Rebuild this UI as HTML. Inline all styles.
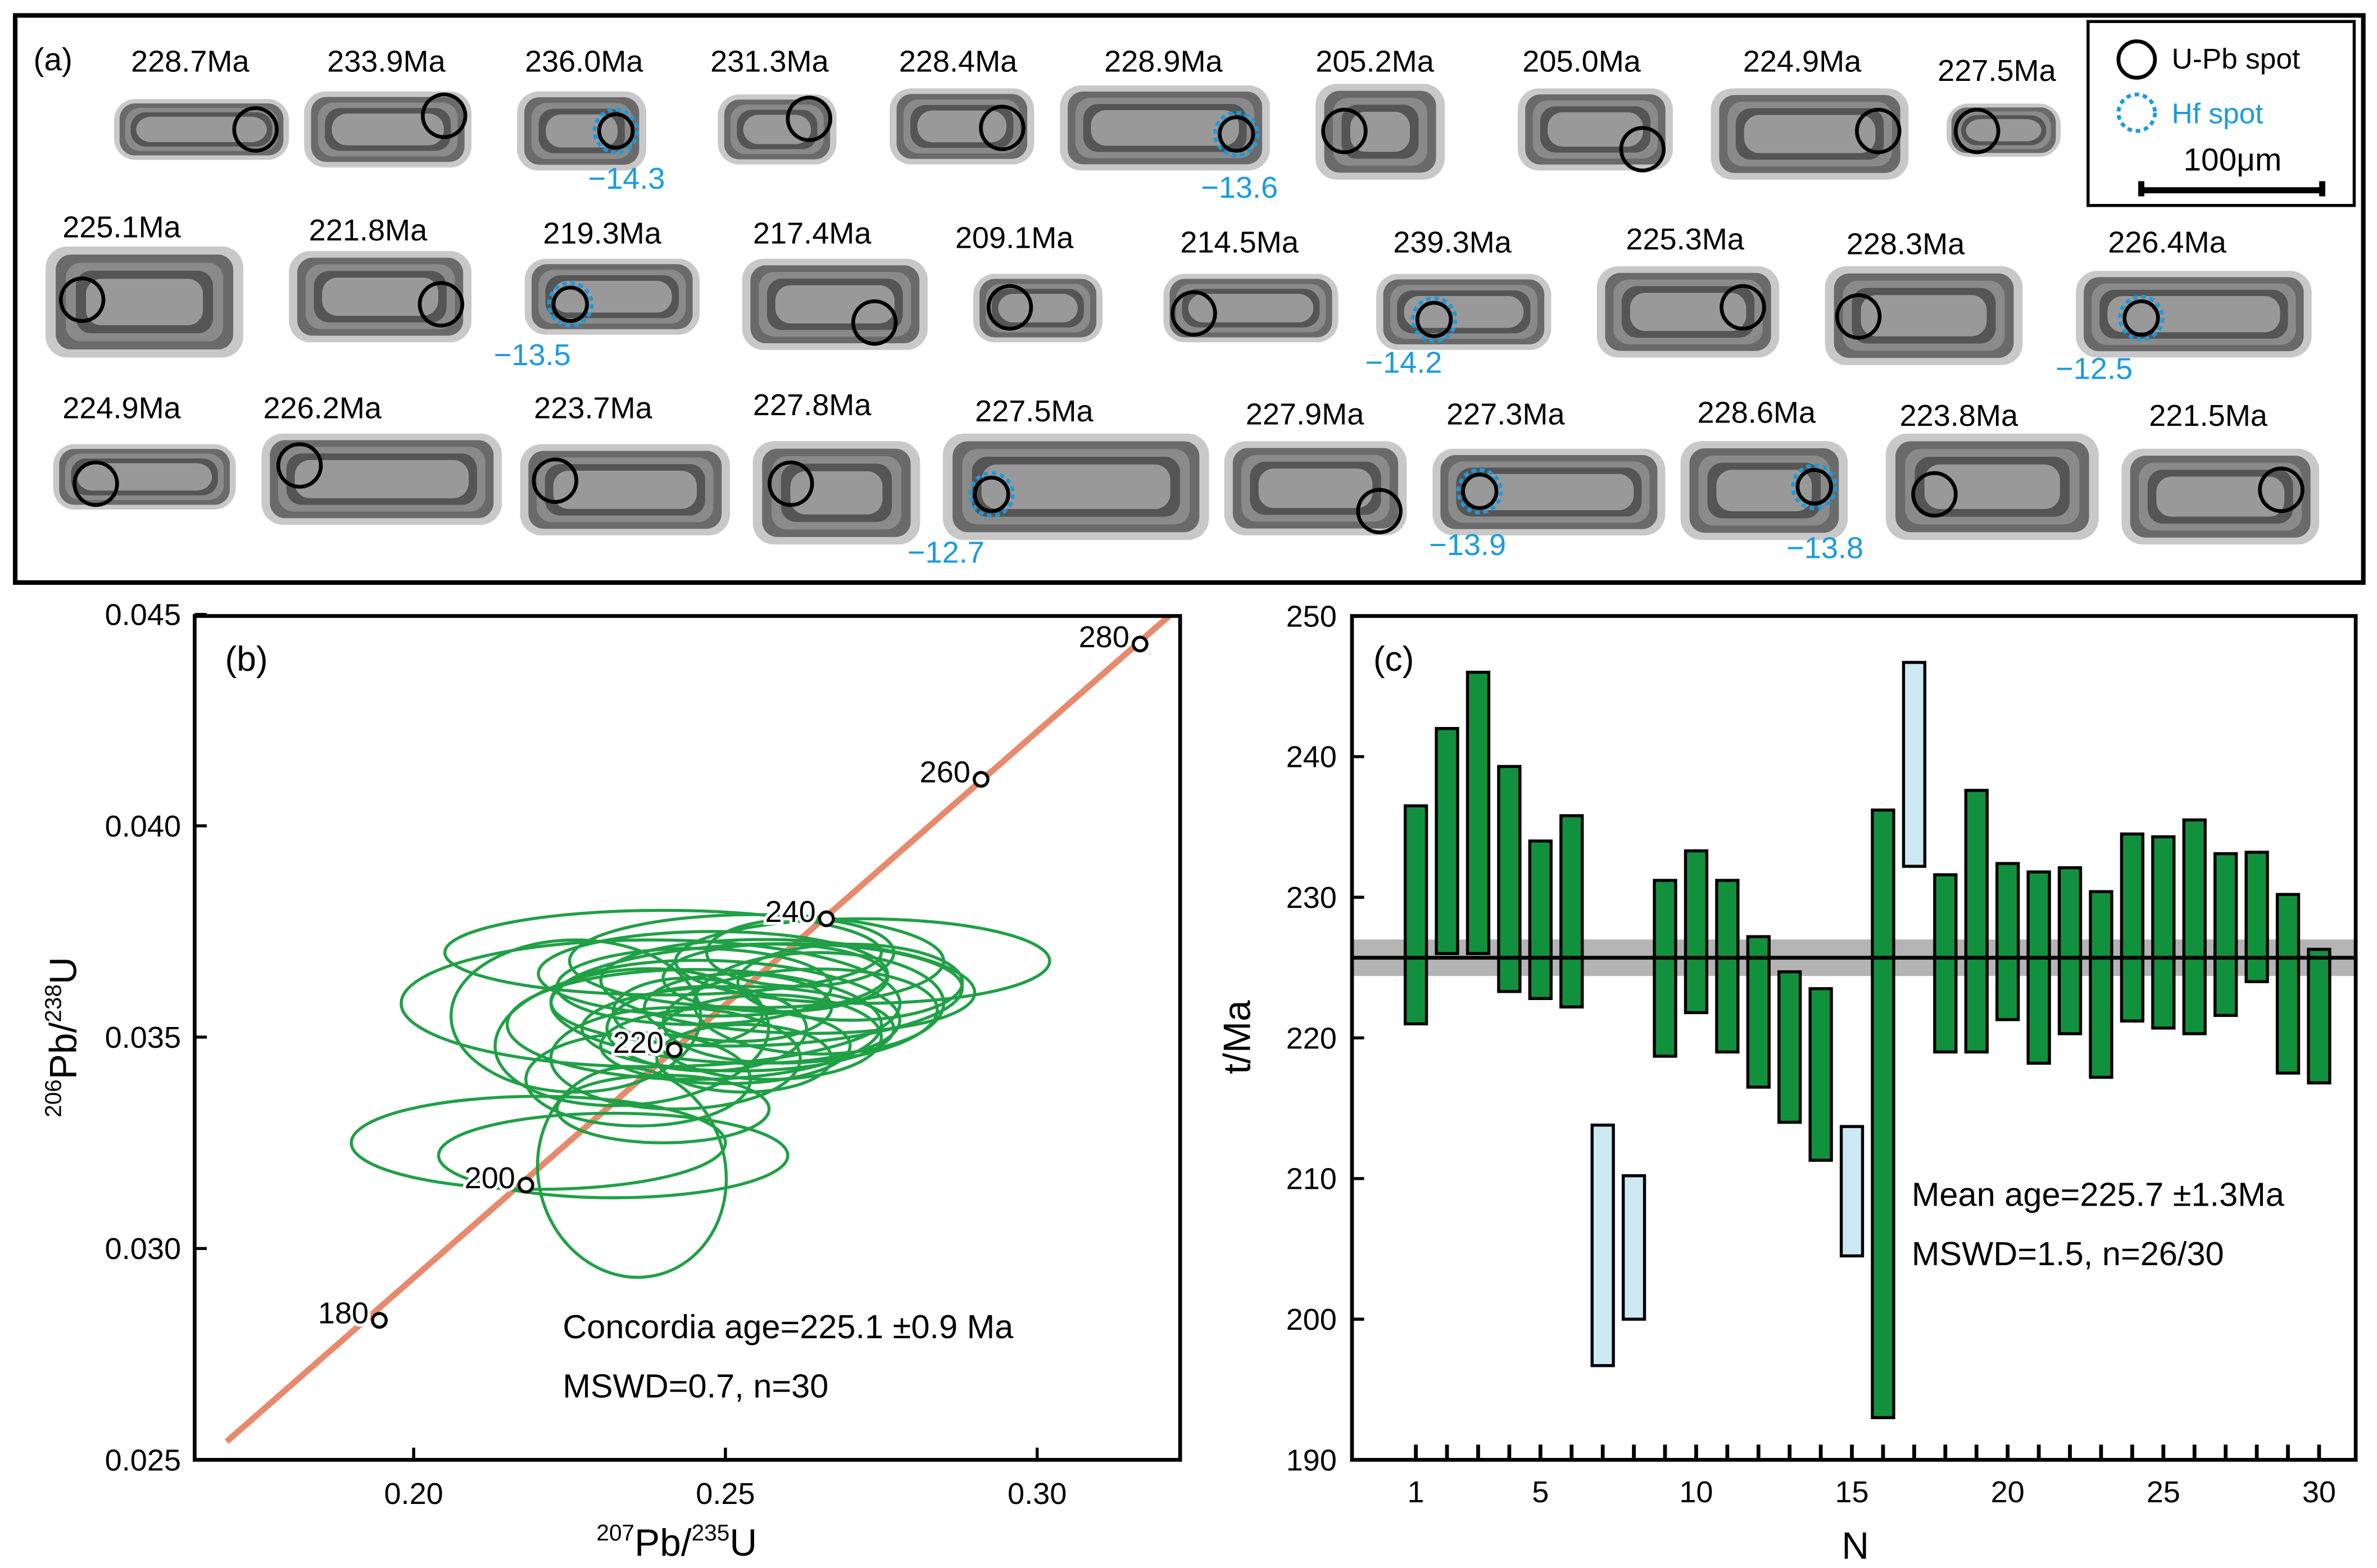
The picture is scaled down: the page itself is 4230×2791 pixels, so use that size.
<!DOCTYPE html>
<html><head><meta charset="utf-8"><style>
html,body{margin:0;padding:0;background:#fff;}
svg{display:block;font-family:"Liberation Sans",Arial,sans-serif;}
</style></head><body>
<svg id="fig" width="4230" height="2791" viewBox="0 0 1563 1031" xmlns="http://www.w3.org/2000/svg">
<rect x="0" y="0" width="1563" height="1031" fill="#fff"/>
<g id="pa">
<rect x="10" y="10" width="1544" height="373" fill="none" stroke="#000" stroke-width="3"/>
<text x="22" y="46" font-size="21">(a)</text>
<g>
<rect x="1373" y="14" width="175" height="121" fill="#fff" stroke="#000" stroke-width="2"/>
<circle cx="1405" cy="39" r="12" fill="none" stroke="#000" stroke-width="2.5"/>
<text x="1428" y="45" font-size="19">U-Pb  spot</text>
<circle cx="1405" cy="74" r="12" fill="none" stroke="#1a9be0" stroke-width="2.5" stroke-dasharray="3 2.5"/>
<text x="1428" y="81" font-size="19" fill="#1a9be0">Hf  spot</text>
<text x="1468" y="112" font-size="21" text-anchor="middle">100μm</text>
<path d="M1408 119 V129 M1527 119 V129 M1408 125 H1527" stroke="#000" stroke-width="4" fill="none"/>
</g>
</g>
<g id="pb"></g>
<g id="pc"></g>
</svg>
<script>
// ---------- Panel (a) grains ----------
const grainLabels=["228.7Ma","233.9Ma","236.0Ma","231.3Ma","228.4Ma","228.9Ma","205.2Ma","205.0Ma","224.9Ma","227.5Ma",
"225.1Ma","221.8Ma","219.3Ma","217.4Ma","209.1Ma","214.5Ma","239.3Ma","225.3Ma","228.3Ma","226.4Ma",
"224.9Ma","226.2Ma","223.7Ma","227.8Ma","227.5Ma","227.9Ma","227.3Ma","228.6Ma","223.8Ma","221.5Ma"];
const hfValues=["","","−14.3","","","−13.6","","","","","","","−13.5","","","","−14.2","","","−12.5","","","","","−12.7","","−13.9","−13.8","",""];
const NS="http://www.w3.org/2000/svg";
function mk(tag,attrs,parent){const e=document.createElementNS(NS,tag);for(const k in attrs)e.setAttribute(k,attrs[k]);parent.appendChild(e);return e;}
const pa=document.getElementById('pa');
const G=[[125,47,75,65,190,105,168,85,412,124],[254,47,200,60,310,110,292,76],[384,47,340,60,425,112,405,86,412,124],[506,47,472,62,550,108,532,78],[630,47,585,58,680,108,659,84],[765,47,697,56,835,112,813,88,815,130],[904,47,865,55,950,118,884,86],[1040,47,998,58,1100,112,1080,98],[1185,47,1125,58,1255,118,1235,86],[1313,53,1280,68,1355,103,1300,86],
[80,156,30,162,160,235,54,197],[242,158,190,165,310,225,290,200],[396,160,345,170,460,220,375,200,350,240],[534,160,488,170,610,230,575,212],[667,163,640,180,725,225,664,202],[815,166,765,180,880,225,785,206],[955,166,905,180,1020,230,943,210,923,245],[1108,164,1050,175,1170,235,1146,202],[1253,167,1200,175,1330,240,1222,208],[1425,166,1365,178,1520,235,1408,209,1377,249],
[80,275,35,292,155,335,63,318],[212,275,172,285,330,345,197,306],[390,275,342,292,480,352,365,316],[534,273,495,290,605,358,520,318],[680,277,620,285,795,355,652,325,622,370],[858,279,805,290,925,352,907,336],[990,279,942,295,1095,352,973,323,965,365],[1155,278,1105,290,1215,355,1193,320,1200,367],[1288,280,1240,285,1380,355,1272,325],[1452,280,1395,295,1525,358,1500,322]];
G.forEach((g,i)=>{
  const grp=mk('g',{},pa);
  
  
  const [lx,ly,x0,y0,x1,y1,cx,cy]=g;
  mk('rect',{x:x0,y:y0,width:x1-x0,height:y1-y0,rx:14,fill:'#c8c8c8'},grp);
  const shades=['#6a6a6a','#8a8a8a','#555','#999'];
  for(let k=1;k<=4;k++){const d=k*Math.min((x1-x0),(y1-y0))/11;
    mk('rect',{x:x0+d,y:y0+d*0.8,width:Math.max(4,x1-x0-2*d),height:Math.max(4,y1-y0-1.6*d),rx:10,fill:shades[k-1]},grp);}
  const hf=hfValues[i]!=="";
  mk('circle',{cx:cx,cy:cy,r:14,fill:'none',stroke:hf?'#1a9be0':'#000','stroke-width':2.5,'stroke-dasharray':hf?'3 2.5':'none'},grp);
  if(hf) mk('circle',{cx:cx,cy:cy,r:11,fill:'none',stroke:'#000','stroke-width':2.5},grp);
  const t=mk('text',{x:lx,y:ly,'font-size':20,'text-anchor':'middle'},grp);t.textContent=grainLabels[i];
  if(hf){const h=mk('text',{x:g[8],y:g[9],'font-size':20,'text-anchor':'middle',fill:'#1a9be0'},grp);h.textContent=hfValues[i];}
});

// ---------- Panel (b) concordia ----------
const xTicksB=[0.20,0.25,0.30];
const yTicksB=[0.025,0.030,0.035,0.040,0.045];
const concAges=[180,200,220,240,260,280];
const concX=[0.1945,0.2180,0.2418,0.2662,0.2910,0.3165];
const concY=[0.0283,0.0315,0.0347,0.0378,0.0411,0.0443];
const ellCx=[0.245,0.250,0.238,0.255,0.252,0.235,0.260,0.248,0.242,0.262,0.220,0.232,0.235,0.255,0.272,0.240,0.250,0.257,0.245,0.236,0.265,0.252,0.244,0.258,0.226,0.270,0.247,0.240,0.262,0.253];
const ellCy=[0.0353,0.0356,0.0358,0.0360,0.0352,0.0350,0.0362,0.0365,0.0345,0.0355,0.0325,0.0322,0.0318,0.0368,0.0368,0.0370,0.0348,0.0350,0.0362,0.0340,0.0358,0.0357,0.0356,0.0364,0.0355,0.0363,0.0352,0.0333,0.0370,0.0345];
const ellRx=[0.030,0.028,0.040,0.033,0.025,0.022,0.030,0.028,0.020,0.022,0.030,0.028,0.015,0.030,0.030,0.035,0.020,0.018,0.022,0.018,0.020,0.015,0.012,0.018,0.020,0.018,0.016,0.017,0.015,0.014];
const ellRy=[0.0013,0.0012,0.0015,0.0012,0.0010,0.0016,0.0011,0.0010,0.0012,0.0011,0.0011,0.0010,0.0025,0.0011,0.0010,0.0010,0.0009,0.0010,0.0009,0.0011,0.0012,0.0008,0.0008,0.0008,0.0018,0.0009,0.0010,0.0008,0.0008,0.0008];
const ellAng=[0,-3,0,2,0,5,-2,0,0,3,0,0,15,0,0,0,0,0,0,0,0,0,0,0,0,0,0,0,0,0];
const bL=128,bR=776,bT=405,bB=960;
const bx=v=>272+(v-0.20)*4100;
const by=v=>960-(v-0.025)*27800;
const pb=document.getElementById('pb');
let el;
const clipB=mk('clipPath',{id:'clipb'},pb);mk('rect',{x:bL,y:bT,width:bR-bL,height:bB-bT},clipB);
el=mk('line',{x1:bx(0.17),y1:by(0.02543),x2:bx(0.325),y2:by(0.04546),stroke:'#e8896c','stroke-width':4,'clip-path':'url(#clipb)'},pb);


ellCx.forEach((c,i)=>{
  const e=mk('ellipse',{cx:bx(c),cy:by(ellCy[i]),rx:ellRx[i]*4100,ry:ellRy[i]*27800,fill:'none',stroke:'#1fa045','stroke-width':2,transform:`rotate(${-ellAng[i]} ${bx(c)} ${by(ellCy[i])})`},pb);
  
  
});
concAges.forEach((a,i)=>{
  const c=mk('circle',{cx:bx(concX[i]),cy:by(concY[i]),r:4.5,fill:'#fff',stroke:'#000','stroke-width':2},pb);
  
  
  const t=mk('text',{x:bx(concX[i])-7,y:by(concY[i])+2,'font-size':20,'text-anchor':'end',stroke:'#fff','stroke-width':4,'paint-order':'stroke'},pb);
  t.textContent=a;
  
  
});
el=mk('rect',{x:bL,y:bT,width:bR-bL,height:bB-bT,fill:'none',stroke:'#000','stroke-width':2.5},pb);


xTicksB.forEach(v=>{mk('line',{x1:bx(v),x2:bx(v),y1:bB,y2:bB-8,stroke:'#000','stroke-width':2},pb);
  const t=mk('text',{x:bx(v),y:bB+29,'font-size':20,'text-anchor':'middle'},pb);t.textContent=v.toFixed(2);
  
  });
yTicksB.forEach(v=>{mk('line',{x1:bL,x2:bL+8,y1:by(v),y2:by(v),stroke:'#000','stroke-width':2},pb);
  const t=mk('text',{x:bL-9,y:by(v)+7,'font-size':20,'text-anchor':'end'},pb);t.textContent=v.toFixed(3);
  
  });
pb.insertAdjacentHTML('beforeend',
`<text x="148" y="441" font-size="23">(b)</text>
<text x="445" y="1023" font-size="25" text-anchor="middle"><tspan font-size="15" dy="-10">207</tspan><tspan dy="10">Pb/</tspan><tspan font-size="15" dy="-10">235</tspan><tspan dy="10">U</tspan></text>
<text transform="translate(50 682) rotate(-90)" font-size="25" text-anchor="middle"><tspan font-size="15" dy="-10">206</tspan><tspan dy="10">Pb/</tspan><tspan font-size="15" dy="-10">238</tspan><tspan dy="10">U</tspan></text>
<text x="370" y="880" font-size="22">Concordia age=225.1 ±0.9 Ma</text>
<text x="370" y="919" font-size="22">MSWD=0.7, n=30</text>`);

// ---------- Panel (c) ----------
const barN=[1,2,3,4,5,6,7,8,9,10,11,12,13,14,15,16,17,18,19,20,21,22,23,24,25,26,27,28,29,30];
const barTop=[236.5,242,246,239.3,234,235.8,213.8,210.2,231.2,233.3,231.2,227.2,224.7,223.5,213.7,236.2,246.7,231.6,237.6,232.4,231.8,232.1,230.4,234.5,234.3,235.5,233.1,233.2,230.2,226.3];
const barBot=[221,226,226,223.3,222.8,222.2,196.7,200,218.7,221.8,219,216.5,214,211.3,204.5,193,232.2,219,219,221.3,218.2,220.3,217.2,221.2,220.7,220.3,221.6,224,217.5,216.8];
const barRejected=[0,0,0,0,0,0,1,1,0,0,0,0,0,0,1,0,1,0,0,0,0,0,0,0,0,0,0,0,0,0];
const meanAge=225.7, meanLo=224.4, meanHi=227.0;
const yTicksC=[190,200,210,220,230,240,250];
const xLabelsC=[1,5,10,15,20,25,30];
const cL=889,cR=1549,cT=405,cB=960;
const cx=n=>931+(n-1)*20.48;
const cy=v=>960-(v-190)*9.25;
const pc=document.getElementById('pc');
el=mk('rect',{x:cL,y:cy(meanHi),width:cR-cL,height:cy(meanLo)-cy(meanHi),fill:'#b4b4b4'},pc);


barN.forEach((n,i)=>{
  const r=mk('rect',{x:cx(n)-7,y:cy(barTop[i]),width:14,height:cy(barBot[i])-cy(barTop[i]),fill:barRejected[i]?'#cde8f2':'#11913e',stroke:'#000','stroke-width':2},pc);
  
  
});
el=mk('line',{x1:cL,x2:cR,y1:cy(meanAge),y2:cy(meanAge),stroke:'#000','stroke-width':2.5},pc);


el=mk('rect',{x:cL,y:cT,width:cR-cL,height:cB-cT,fill:'none',stroke:'#000','stroke-width':2.5},pc);


yTicksC.forEach(v=>{mk('line',{x1:cL,x2:cL+8,y1:cy(v),y2:cy(v),stroke:'#000','stroke-width':2},pc);
  const t=mk('text',{x:cL-10,y:cy(v)+7,'font-size':20,'text-anchor':'end'},pc);t.textContent=v;
  
  });
barN.forEach(n=>{mk('line',{x1:cx(n),x2:cx(n),y1:cB,y2:cB-10,stroke:'#000','stroke-width':2.5},pc);});
xLabelsC.forEach(n=>{const t=mk('text',{x:cx(n),y:cB+28,'font-size':20,'text-anchor':'middle'},pc);t.textContent=n;
  
  });
pc.insertAdjacentHTML('beforeend',
`<text x="903" y="441" font-size="23">(c)</text>
<text x="1220" y="1025" font-size="25" text-anchor="middle">N</text>
<text transform="translate(822 682) rotate(-90)" font-size="25" text-anchor="middle">t/Ma</text>
<text x="1257" y="793" font-size="22">Mean age=225.7 ±1.3Ma</text>
<text x="1257" y="832" font-size="22">MSWD=1.5, n=26/30</text>`);
</script>
</body></html>
